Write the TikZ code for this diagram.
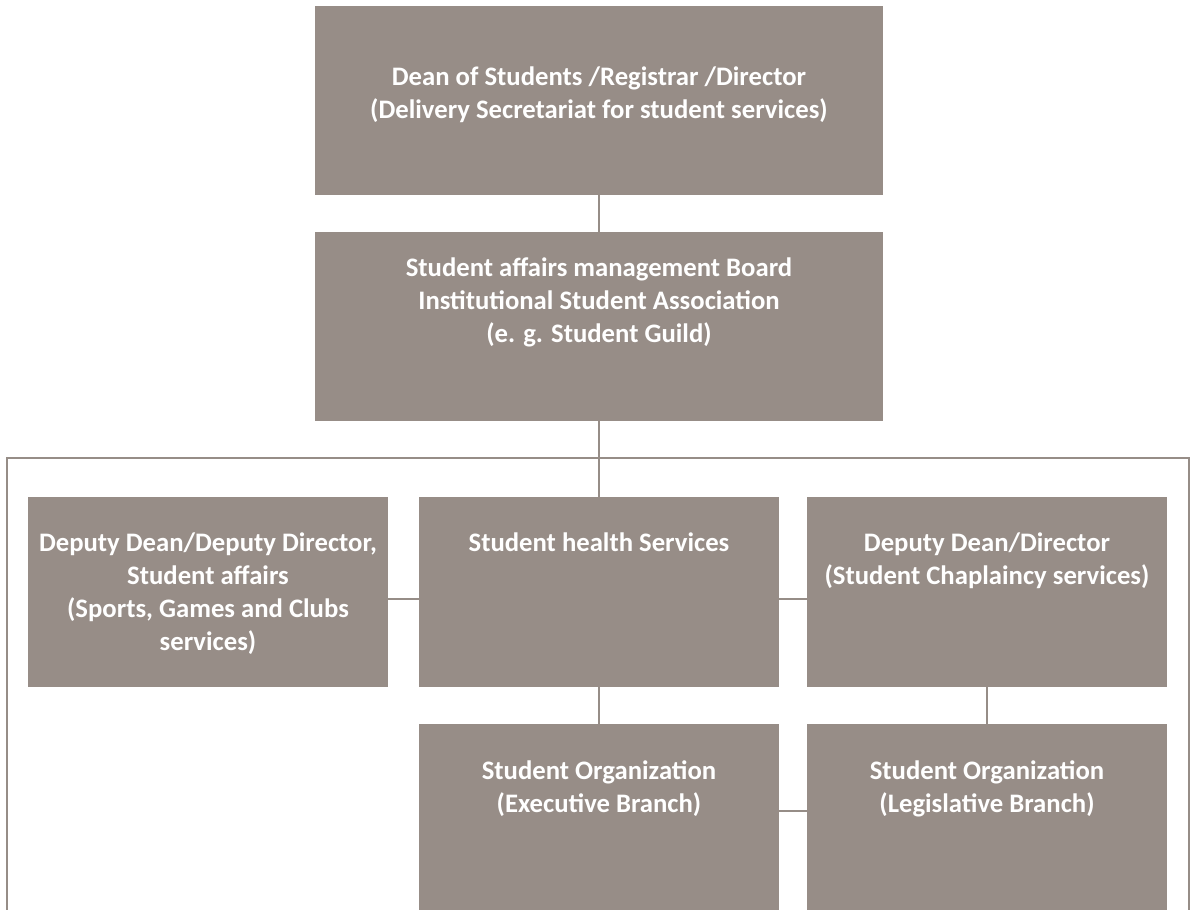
\documentclass[tikz,border=0pt]{standalone}
\usepackage{fontspec}
\setmainfont{Carlito}
\usetikzlibrary{calc}
\definecolor{boxgray}{RGB}{151,141,135}
\definecolor{linegray}{RGB}{150,141,135}
\tikzset{
  orgbox/.style={fill=boxgray, draw=none, inner sep=0pt},
  lbl/.style={anchor=north, inner sep=0pt, text=white, align=center,
    font=\fontsize{26.7}{33}\selectfont\bfseries},
  conn/.style={draw=linegray, line width=2pt}
}
\begin{document}
\begin{tikzpicture}[x=1pt,y=-1pt]
\useasboundingbox (0,0) rectangle (1192,910);
\coordinate (bar) at (599,458);
\coordinate (fl) at (7,910);
\coordinate (fr) at (1189,910);
% boxes
\node[orgbox, minimum width=568pt, minimum height=189pt] (top) at (599,100.5) {};
\node[orgbox, minimum width=568pt, minimum height=189pt] (board) at (599,326.5) {};
\node[orgbox, minimum width=360pt, minimum height=190pt] (dep) at (208,592) {};
\node[orgbox, minimum width=360pt, minimum height=190pt] (health) at (599,592) {};
\node[orgbox, minimum width=360pt, minimum height=190pt] (chap) at (987,592) {};
\node[orgbox, minimum width=360pt, minimum height=200pt] (exec) at (599,824) {};
\node[orgbox, minimum width=360pt, minimum height=200pt] (legis) at (987,824) {};
% connectors
\draw[conn] (top.south) -- (board.north);
\draw[conn] (board.south) -- (bar);
\draw[conn] (fl) |- (bar) -| (fr);
\draw[conn] (bar) -- (health.north);
\draw[conn] (dep.east |- 0,599) -- (health.west |- 0,599);
\draw[conn] (health.east |- 0,599) -- (chap.west |- 0,599);
\draw[conn] (health.south) -- (exec.north);
\draw[conn] (chap.south) -- (legis.north);
\draw[conn] (exec.east |- 0,811) -- (legis.west |- 0,811);
% labels
\node[lbl] (ltop) at ($(top.north)+(0,61)$) {Dean of Students /Registrar /Director\\(Delivery Secretariat for student services)};
\node[lbl] (lboard) at ($(board.north)+(0,26)$) {Student affairs management Board\\Institutional Student Association\\(e. g. Student Guild)};
\node[lbl] (ldep) at ($(dep.north)+(0,36)$) {Deputy Dean/Deputy Director,\\Student affairs\\(Sports, Games and Clubs\\services)};
\node[lbl] (lhealth) at ($(health.north)+(0,36)$) {Student health Services};
\node[lbl] (lchap) at ($(chap.north)+(0,36)$) {Deputy Dean/Director\\(Student Chaplaincy services)};
\node[lbl] (lexec) at ($(exec.north)+(0,37)$) {Student Organization\\(Executive Branch)};
\node[lbl] (llegis) at ($(legis.north)+(0,37)$) {Student Organization\\(Legislative Branch)};
\end{tikzpicture}
\end{document}
